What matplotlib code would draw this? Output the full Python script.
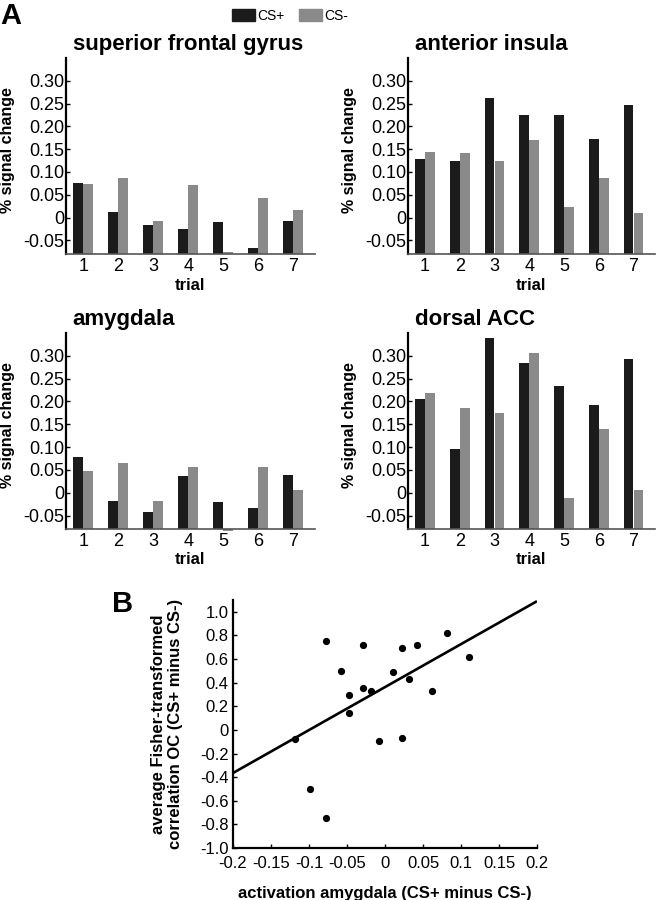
import numpy as np
import matplotlib
matplotlib.use("Agg")
import matplotlib.pyplot as plt
from matplotlib.patches import Patch

plt.rcParams['font.family'] = ['Liberation Sans', 'DejaVu Sans']
plt.rcParams['axes.unicode_minus'] = False

# ---- data ----
trials = [1, 2, 3, 4, 5, 6, 7]

sfg_csp = [0.075, 0.012, -0.017, -0.025, -0.010, -0.066, -0.008]
sfg_csm = [0.074, 0.086, -0.008, 0.072, -0.076, 0.042, 0.016]

ins_csp = [0.129, 0.125, 0.262, 0.226, 0.226, 0.172, 0.246]
ins_csm = [0.143, 0.141, 0.124, 0.171, 0.023, 0.087, 0.010]

amy_csp = [0.078, -0.018, -0.042, 0.036, -0.021, -0.034, 0.038]
amy_csm = [0.048, 0.066, -0.018, 0.056, -0.084, 0.056, 0.007]

acc_csp = [0.206, 0.096, 0.339, 0.284, 0.233, 0.192, 0.293]
acc_csm = [0.218, 0.185, 0.174, 0.306, -0.012, 0.139, 0.007]

bar_yticks = [-0.05, 0, 0.05, 0.10, 0.15, 0.20, 0.25, 0.30]
bar_yticklabels = ['-0.05', '0', '0.05', '0.10', '0.15', '0.20', '0.25', '0.30']

amy_diff = [-0.078, -0.029, -0.058, -0.048, -0.048, -0.029, -0.018, 0.011, 0.022,
            0.042, 0.032, 0.062, 0.081, 0.111, -0.119, -0.008, 0.022, -0.099, -0.078]
fisher_oc = [0.755, 0.718, 0.496, 0.296, 0.146, 0.355, 0.332, 0.488, 0.696,
             0.720, 0.430, 0.327, 0.817, 0.618, -0.073, -0.096, -0.065, -0.504, -0.746]
fit_x = [-0.2, 0.2]
fit_y = [-0.365, 1.09]

sc_xticks = [-0.2, -0.15, -0.1, -0.05, 0, 0.05, 0.1, 0.15, 0.2]
sc_xticklabels = ['-0.2', '-0.15', '-0.1', '-0.05', '0', '0.05', '0.1', '0.15', '0.2']
sc_yticks = [-1.0, -0.8, -0.6, -0.4, -0.2, 0, 0.2, 0.4, 0.6, 0.8, 1.0]
sc_yticklabels = ['-1.0', '-0.8', '-0.6', '-0.4', '-0.2', '0', '0.2', '0.4', '0.6', '0.8', '1.0']

C_PLUS = '#1b1b1b'
C_MINUS = '#8a8a8a'

W, H = 656, 900
fig = plt.figure(figsize=(W / 100, H / 100), dpi=100)


def px_axes(left, top, right, bottom):
    return fig.add_axes([left / W, 1 - bottom / H, (right - left) / W, (bottom - top) / H])


def bar_panel(ax, title, csp, csm, xlab_y):
    base = -0.08
    x = np.array(trials)
    ax.bar(x - 0.145, np.array(csp) - base, bottom=base, width=0.28,
           color=C_PLUS, clip_on=False)
    ax.bar(x + 0.145, np.array(csm) - base, bottom=base, width=0.28,
           color=C_MINUS, clip_on=False)
    ax.set_xlim(0.5, 7.62)
    ax.set_ylim(base, 0.35)
    ax.set_xticks(trials)
    ax.set_yticks(bar_yticks)
    ax.set_yticklabels(bar_yticklabels)
    ax.tick_params(axis='y', direction='in', length=3, width=1, labelsize=13, pad=1)
    ax.tick_params(axis='x', length=0, labelsize=13, pad=3)
    for s in ['top', 'right']:
        ax.spines[s].set_visible(False)
    ax.spines['left'].set_linewidth(1.6)
    ax.spines['left'].set_color('black')
    ax.spines['bottom'].set_linewidth(1.2)
    ax.spines['bottom'].set_color('#555555')
    ax.set_ylabel('% signal change', fontsize=11.5, fontweight='bold')
    ax.yaxis.set_label_coords(-0.205, 0.53)
    ax.set_xlabel('trial', fontsize=12, fontweight='bold')
    ax.xaxis.set_label_coords(0.5, xlab_y)
    ax.text(0.028, 1.04, title, transform=ax.transAxes, ha='left', va='baseline',
            fontsize=16, fontweight='bold')


ax1 = px_axes(65.7, 58, 315, 254)
bar_panel(ax1, 'superior frontal gyrus', sfg_csp, sfg_csm, -0.125)
ax2 = px_axes(407.7, 58, 655, 254)
bar_panel(ax2, 'anterior insula', ins_csp, ins_csm, -0.125)
ax3 = px_axes(65.7, 333, 315, 529.3)
bar_panel(ax3, 'amygdala', amy_csp, amy_csm, -0.115)
ax4 = px_axes(407.7, 333, 655, 529.3)
bar_panel(ax4, 'dorsal ACC', acc_csp, acc_csm, -0.115)

# scatter panel
ax5 = px_axes(233, 600, 537, 848)
ax5.plot(fit_x, fit_y, color='black', lw=1.9, solid_capstyle='butt')
ax5.plot(amy_diff, fisher_oc, 'o', color='black', ms=4.2, mec='black')
ax5.set_xlim(-0.2, 0.2)
ax5.set_ylim(-1.0, 1.1)
ax5.set_xticks(sc_xticks)
ax5.set_xticklabels(sc_xticklabels)
ax5.set_yticks(sc_yticks)
ax5.set_yticklabels(sc_yticklabels)
ax5.tick_params(direction='in', length=3, width=1, labelsize=12)
ax5.tick_params(axis='x', pad=6)
ax5.tick_params(axis='y', pad=3)
for s in ['top', 'right']:
    ax5.spines[s].set_visible(False)
for s in ['left', 'bottom']:
    ax5.spines[s].set_linewidth(1.6)
ax5.set_ylabel('average Fisher-transformed\ncorrelation OC (CS+ minus CS-)',
               fontsize=12, fontweight='bold', linespacing=1.15)
ax5.yaxis.set_label_coords(-0.165, 0.5)
ax5.set_xlabel('activation amygdala (CS+ minus CS-)', fontsize=12, fontweight='bold')
ax5.xaxis.set_label_coords(0.5, -0.155)

# legend and panel letters
handles = [Patch(color=C_PLUS), Patch(color=C_MINUS)]
fig.legend(handles, ['CS+', 'CS-'], loc='upper center', bbox_to_anchor=(290 / W, 1.0),
           ncol=2, frameon=False, fontsize=10, handlelength=1.65, handleheight=0.95,
           handletextpad=0.15, columnspacing=1.1, borderpad=0.15)
fig.text(0 / W, 1 - 2 / H, 'A', fontsize=21, fontweight='bold', ha='left', va='top')
fig.text(112 / W, 1 - 590 / H, 'B', fontsize=21, fontweight='bold', ha='left', va='top')

fig.savefig('out.png', dpi=100)
